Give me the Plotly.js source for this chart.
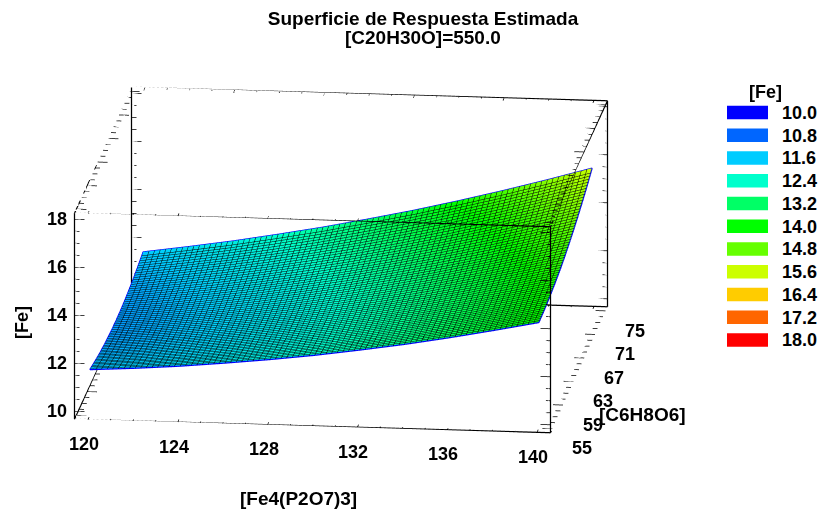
<!DOCTYPE html>
<html><head><meta charset="utf-8">
<script src="https://cdn.plot.ly/plotly-3.0.1.min.js"></script>
<style>html,body{margin:0;padding:0;background:#fff}#c{width:821px;height:510px}</style></head>
<body><div id="c"></div>
<script>
const feP2O7 = [120,122,124,126,128,130,132,134,136,138,140];
const c6h8o6 = [55,57,59,61,63,65,67,69,71,73,75];
const feValues = [
[11.58,11.69,11.83,12.01,12.21,12.44,12.71,13.00,13.33,13.69,14.07],
[11.45,11.57,11.73,11.92,12.14,12.38,12.66,12.97,13.32,13.69,14.09],
[11.34,11.48,11.66,11.86,12.09,12.36,12.65,12.98,13.33,13.72,14.14],
[11.27,11.42,11.61,11.83,12.08,12.36,12.67,13.01,13.38,13.78,14.22],
[11.22,11.39,11.60,11.83,12.09,12.39,12.71,13.07,13.46,13.88,14.32],
[11.21,11.39,11.61,11.86,12.14,12.45,12.79,13.16,13.57,14.00,14.46],
[11.22,11.42,11.66,11.92,12.22,12.54,12.90,13.28,13.70,14.15,14.63],
[11.27,11.49,11.73,12.01,12.32,12.66,13.03,13.44,13.87,14.33,14.83],
[11.34,11.58,11.84,12.13,12.46,12.81,13.20,13.62,14.07,14.55,15.06],
[11.45,11.70,11.97,12.28,12.62,13.00,13.40,13.83,14.29,14.79,15.31],
[11.58,11.85,12.14,12.47,12.82,13.21,13.62,14.07,14.55,15.06,15.60]];
const xTicks = [120,124,128,132,136,140];
const yTicks = [55,59,63,67,71,75];
const zTicks = [10,12,14,16,18];
const xMinor = [120,121,122,123,124,125,126,127,128,129,130,131,132,133,134,135,136,137,138,139,140];
const yMinor = [55,56,57,58,59,60,61,62,63,64,65,66,67,68,69,70,71,72,73,74,75];
const zMinor = [10,10.5,11,11.5,12,12.5,13,13.5,14,14.5,15,15.5,16,16.5,17,17.5,18];
const legendLabels = ['10.0','10.8','11.6','12.4','13.2','14.0','14.8','15.6','16.4','17.2','18.0'];
const legendColors = ['#0000ff','#0066ff','#00ccff','#00ffcc','#00ff66','#00ff00','#66ff00','#ccff00','#ffcc00','#ff6600','#ff0000'];

const xR=[119.4,140.6], yR=[54.3,75.7], zR=[9.67,18.25];
const font={family:'Liberation Sans, Arial, sans-serif',size:18,color:'#000',weight:700};
const font19=Object.assign({},font,{size:19});
const last=feP2O7.length-1;
const edge={
 x:[...feP2O7, ...c6h8o6.map(()=>feP2O7[last]), ...feP2O7.slice().reverse(), ...c6h8o6.map(()=>feP2O7[0])],
 y:[...feP2O7.map(()=>c6h8o6[0]), ...c6h8o6, ...feP2O7.map(()=>c6h8o6[last]), ...c6h8o6.slice().reverse()],
 z:[...feValues[0], ...feValues.map(r=>r[last]), ...feValues[last].slice().reverse(), ...feValues.map(r=>r[0]).reverse()]
};
const mk=()=>({x:[],y:[],z:[]});
const frame=mk(),ticks=mk();
const seg=(t,a,b)=>{t.x.push(a[0],b[0],null);t.y.push(a[1],b[1],null);t.z.push(a[2],b[2],null)};
const [x0,x1]=xR,[y0,y1]=yR,[z0,z1]=zR;
for(const y of yR)for(const z of zR)seg(frame,[x0,y,z],[x1,y,z]);
for(const x of xR)for(const z of zR)seg(frame,[x,y0,z],[x,y1,z]);
for(const x of xR)for(const y of yR)seg(frame,[x,y,z0],[x,y,z1]);
const dx=x1-x0,dy=y1-y0;
const len=(t,maj)=>maj.includes(t)?0.021:0.0105;
for(const x of xR){const s=x===x0?1:-1;
  for(const y of yR)for(const t of zMinor)seg(ticks,[x,y,t],[x+s*len(t,zTicks)*dx,y,t]);
  for(const z of zR)for(const t of yMinor)seg(ticks,[x,t,z],[x+s*len(t,yTicks)*dx,t,z]);
}
for(const y of yR){const s=y===y0?1:-1;
  for(const z of zR)for(const t of xMinor)seg(ticks,[t,y,z],[t,y+s*len(t,xTicks)*dy,z]);
}
const cs=legendColors.map((c,i)=>[i/(legendColors.length-1),c]);
const ax=(r)=>({range:r,autorange:false,showgrid:false,zeroline:false,showbackground:false,showspikes:false,
  showticklabels:false,ticks:'',showline:false,title:{text:''}});
const sceneAnn=[
 ...xTicks.map(t=>({x:t,y:yR[0]+.01,z:zR[0]+.01,text:String(t),xshift:-4,yshift:-25})),
 ...yTicks.map(t=>({x:xR[1]-.01,y:t,z:zR[0]+.01,text:String(t),xshift:30,yshift:-20})),
 ...zTicks.map(t=>({x:xR[0]+.01,y:yR[0]+.01,z:t,text:String(t),xshift:-18,yshift:0}))
].map(a=>Object.assign(a,{showarrow:false,font,xanchor:'center',yanchor:'middle'}));
const data=[
 {type:'surface',x:feP2O7,y:c6h8o6,z:feValues,colorscale:cs,cmin:10,cmax:18,showscale:false,hoverinfo:'skip',
  lighting:{ambient:1,diffuse:0,specular:0,roughness:1,fresnel:0},
  contours:{x:{show:true,start:120.263,end:139.8,size:0.25,color:'#000',width:1,highlight:false},
            y:{show:true,start:55.343,end:74.8,size:0.33,color:'#000',width:1,highlight:false},z:{highlight:false}}},
 {type:'scatter3d',mode:'lines',x:edge.x,y:edge.y,z:edge.z,line:{color:'#0000ff',width:2.5},hoverinfo:'skip',showlegend:false},
 {type:'scatter3d',mode:'lines',x:frame.x,y:frame.y,z:frame.z,connectgaps:false,line:{color:'#000',width:2.5},hoverinfo:'skip',showlegend:false},
 {type:'scatter3d',mode:'lines',x:ticks.x,y:ticks.y,z:ticks.z,connectgaps:false,line:{color:'#000',width:1.5},hoverinfo:'skip',showlegend:false},
 {type:'bar',orientation:'h',y:legendLabels,x:legendLabels.map(()=>1),marker:{color:legendColors},width:0.595,xaxis:'x',yaxis:'y',hoverinfo:'skip',showlegend:false}
];
const ann=(x,y,text,extra)=>Object.assign({xref:'paper',yref:'paper',x:x/821,y:1-y/510,text,showarrow:false,font,xanchor:'center',yanchor:'middle'},extra||{});
const layout={width:821,height:510,margin:{l:0,r:0,t:0,b:0},paper_bgcolor:'#fff',plot_bgcolor:'#fff',showlegend:false,
 title:{text:'Superficie de Respuesta Estimada',x:423/821,xanchor:'center',y:1-18/510,yanchor:'middle',font:font19},
 scene:{domain:{x:[0,682/821],y:[0,.9804]},aspectmode:'manual',aspectratio:{x:1.916,y:2.028,z:.851},
  camera:{projection:{type:'orthographic'},up:{x:0,y:0,z:1},center:{x:0,y:0,z:0},eye:{x:.4356,y:-3.848,z:1.0}},
  xaxis:ax(xR),yaxis:ax(yR),zaxis:ax(zR),annotations:sceneAnn},
 xaxis:{domain:[727/821,768/821],range:[0,1],visible:false,fixedrange:true},
 yaxis:{domain:[1-351.3/510,1-101.2/510],autorange:'reversed',type:'category',side:'right',anchor:'x',showline:false,ticks:'',tickfont:font,ticklabelstandoff:13,fixedrange:true},
 annotations:[
  ann(423,38,'[C20H30O]=550.0',{font:font19}),
  ann(298,498,'[Fe4(P2O7)3]',{font:font19}),
  ann(642,414,'[C6H8O6]',{font:font19}),
  ann(22,323,'[Fe]',{textangle:-90}),
  ann(765,92,'[Fe]')
 ]};
Plotly.newPlot('c',data,layout,{displayModeBar:false});
</script></body></html>
